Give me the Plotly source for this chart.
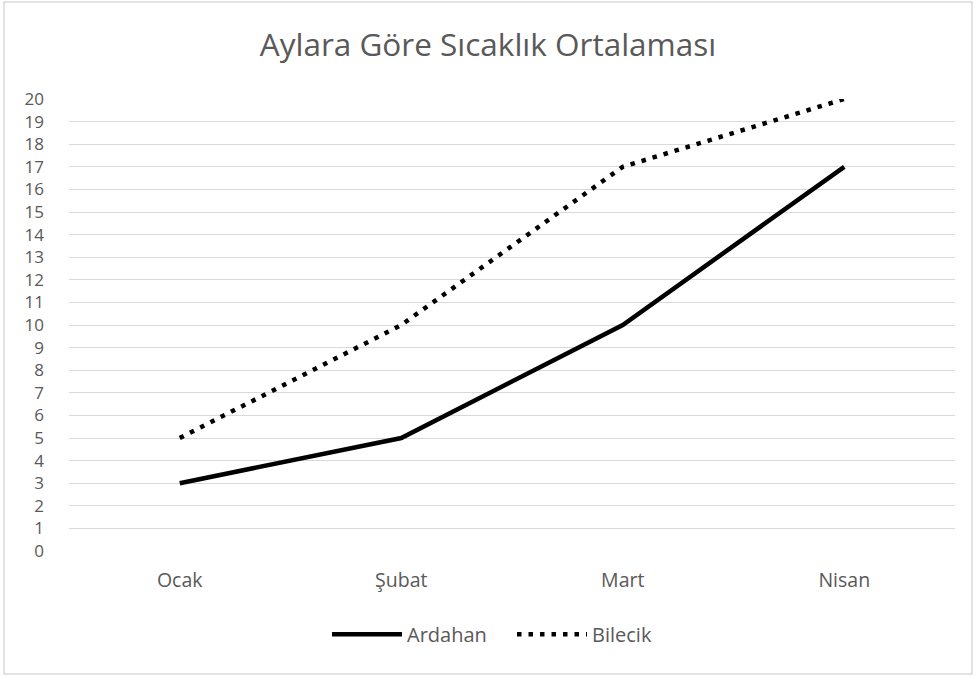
import plotly.graph_objects as go

months = ["Ocak", "Şubat", "Mart", "Nisan"]
ardahan = [3, 5, 10, 17]
bilecik = [5, 10, 17, 20]
y_ticks = list(range(0, 21))

FONT = "Open Sans"
GREY = "#595959"

fig = go.Figure()
fig.add_trace(go.Scatter(x=months, y=ardahan, mode="lines", name="Ardahan",
                         line=dict(color="black", width=4.5)))
fig.add_trace(go.Scatter(x=months, y=bilecik, mode="lines", name="Bilecik",
                         line=dict(color="black", width=4.5, dash="4.5px,7px")))

fig.update_layout(
    width=976, height=678,
    margin=dict(l=69, r=21, t=99, b=127),
    paper_bgcolor="white", plot_bgcolor="white",
    font=dict(family=FONT, color=GREY, size=19),
    title=dict(text="Aylara Göre Sıcaklık Ortalaması", x=0.5, xanchor="center",
               y=0.934, yanchor="middle", font=dict(size=31.5, color=GREY)),
    showlegend=True,
    legend=dict(orientation="h", x=0.5, xanchor="center", y=-0.184, yanchor="middle",
                font=dict(size=20, color=GREY), itemwidth=70, traceorder="normal",
                entrywidth=100),
)
fig.update_xaxes(range=[-0.5, 3.5], showgrid=False, showline=False, ticks="",
                 tickfont=dict(size=19.5, color=GREY), ticklabelstandoff=15)
fig.update_yaxes(range=[0, 20], tickvals=y_ticks, showgrid=True, gridcolor="#d9d9d9",
                 gridwidth=1, zeroline=False, showline=False, ticks="",
                 tickfont=dict(size=17, color=GREY), ticklabelstandoff=24)

# outer chart border
fig.add_shape(type="rect", xref="paper", yref="paper",
              x0=(4 - 69) / 886, x1=(972 - 69) / 886,
              y0=(551 - 674) / 452, y1=(551 - 2) / 452,
              line=dict(color="#d9d9d9", width=1.5), layer="below")

fig.write_html("out.html", config={"displayModeBar": False},
               post_script="document.body.style.margin='0';")
